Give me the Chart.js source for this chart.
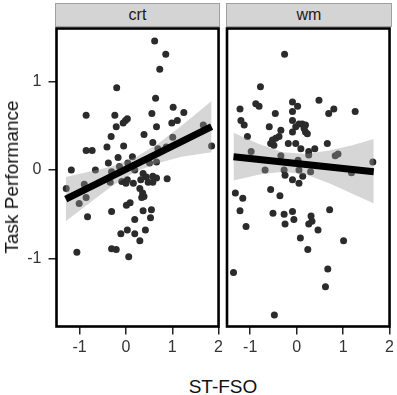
<!DOCTYPE html>
<html>
<head>
<meta charset="utf-8">
<script src="https://cdn.jsdelivr.net/npm/chart.js@4.4.0/dist/chart.umd.min.js"></script>
<style>
  body { margin: 0; background: #fff; font-family: "Liberation Sans", Arial, sans-serif; }
  #wrap { position: relative; width: 397px; height: 395px; overflow: hidden; }
  canvas { position: absolute; top: 0; }
  .strip { position: absolute; top: 3px; height: 24px; background: #d4d4d4; border: 1px solid #a0a0a0;
           box-sizing: border-box; text-align: center; font-size: 16px; line-height: 22px; color: #1a1a1a; }
  #ytitle { position: absolute; left: 12px; top: 177px; transform: translate(-50%, -50%) rotate(-90deg);
            font-size: 19px; white-space: nowrap; color: #111; }
  #xtitle { position: absolute; left: 223px; top: 376px; transform: translateX(-50%);
            font-size: 19px; white-space: nowrap; color: #111; }
</style>
</head>
<body>
<div id="wrap">
  <canvas id="crtChart" width="226" height="360" style="left:0"></canvas>
  <canvas id="wmChart" width="175" height="360" style="left:222px"></canvas>
  <div class="strip" style="left:55px;width:165px">crt</div>
  <div class="strip" style="left:226px;width:166px">wm</div>
  <div id="ytitle">Task Performance</div>
  <div id="xtitle">ST-FSO</div>
</div>
<script>
// axis ticks
const xTicks = [-1, 0, 1, 2];
const yTicks = [-1, 0, 1];

// crt panel points
const crtX = [0.62, 0.86, 0.73, -0.20, 0.64, -0.86, -0.24, 0.03, -0.01, -0.06, -0.21, 0.56, 1.02, 1.25, 1.11, 0.99, 0.66, 1.67, 1.85,
  0.39, -0.32, -0.86, -0.73, -0.41, -0.05, 0.58, 1.01, 0.87, 0.69, 0.14, -0.17, -0.38, 0.04, -0.14, -1.18, -0.66, -0.31, 0.19, 0.37,
  0.51, 0.66, 0.44, 0.58, 0.66, 0.89, 0.48, 0.58, -0.09, 0.00, 0.16, -0.90, -1.29, 0.30, -0.34, -1.01, -0.86, -0.83, -0.31, 0.36,
  0.39, 0.01, 0.09, 0.37, 0.55, 0.53, 0.19, -0.11, 0.03, 0.19, 0.42, 0.30, -0.31, -0.21, -1.06, 0.06, 0.05, 0.03, 0.32, 0.34];
const crtY = [1.46, 1.31, 1.14, 0.93, 0.81, 0.62, 0.62, 0.58, 0.56, 0.53, 0.49, 0.64, 0.71, 0.65, 0.56, 0.53, 0.49, 0.51, 0.27,
  0.40, 0.38, 0.22, 0.22, 0.26, 0.27, 0.31, 0.37, 0.26, 0.24, 0.15, 0.14, 0.08, 0.08, 0.04, 0.00, 0.00, -0.02, 0.00, -0.04,
  0.08, 0.09, -0.08, -0.07, -0.09, -0.10, -0.14, -0.14, -0.13, -0.15, -0.15, -0.16, -0.21, -0.21, -0.14, -0.38, -0.31, -0.53, -0.47, -0.26,
  -0.30, -0.40, -0.37, -0.46, -0.45, -0.54, -0.56, -0.72, -0.68, -0.72, -0.68, -0.80, -0.89, -0.90, -0.93, -0.98, 0.04, -0.11, -0.11, -0.31];

// crt fit line and band
const crtLineX = [-1.30, 1.85];
const crtLineY = [-0.33, 0.49];
const crtBandX = [-1.30, -0.80, -0.30, 0.20, 0.70, 1.20, 1.85];
const crtBandLo = [-0.58, -0.38, -0.18, -0.02, 0.08, 0.15, 0.20];
const crtBandHi = [-0.08, -0.02, 0.04, 0.14, 0.30, 0.50, 0.78];

// wm panel points
const wmX = [-0.26, -0.78, -0.88, -0.81, -1.22, -0.46, -0.09, 0.02, 0.48, 0.80, 0.69, 1.26, -0.09, -1.20, -1.13, -0.59, -0.09, 0.12,
  0.05, 0.19, -0.02, 0.16, 0.19, 0.23, -0.34, -0.09, -1.06, -0.38, -0.45, -0.52, -0.56, -0.49, -0.18, -0.02, 0.09, 0.26, 0.39, 0.66,
  -0.98, -0.34, 0.26, 0.83, 0.89, 0.03, 1.64, -0.68, -0.27, 0.05, 0.30, 1.18, -0.25, 0.13, -0.09, 0.05, -0.56, -1.32, -1.16, -0.36,
  -1.22, -1.09, -0.51, -0.27, -0.09, -0.25, -0.06, 0.31, 0.33, 0.26, 0.46, 0.71, 0.08, 1.01, 0.24, -1.36, 0.67, 0.62, -0.48];
const wmY = [1.31, 0.94, 0.75, 0.72, 0.69, 0.64, 0.77, 0.72, 0.79, 0.69, 0.64, 0.66, 0.66, 0.56, 0.51, 0.49, 0.56, 0.52,
  0.52, 0.51, 0.49, 0.47, 0.43, 0.41, 0.45, 0.43, 0.38, 0.38, 0.36, 0.34, 0.30, 0.28, 0.30, 0.30, 0.24, 0.21, 0.24, 0.30,
  0.21, 0.16, 0.17, 0.16, 0.18, 0.11, 0.09, 0.00, 0.00, 0.00, -0.02, -0.03, -0.06, -0.07, -0.11, -0.15, -0.22, -0.26, -0.32, -0.29,
  -0.46, -0.64, -0.49, -0.50, -0.47, -0.61, -0.56, -0.52, -0.58, -0.61, -0.68, -0.45, -0.77, -0.80, -0.90, -1.16, -1.12, -1.32, -1.64];

// wm fit line and band
const wmLineX = [-1.36, 1.66];
const wmLineY = [0.15, -0.02];
const wmBandX = [-1.36, -0.80, -0.30, 0.20, 0.70, 1.20, 1.66];
const wmBandLo = [-0.12, -0.05, -0.02, -0.05, -0.15, -0.27, -0.38];
const wmBandHi = [0.42, 0.29, 0.20, 0.18, 0.22, 0.28, 0.35];

const font = { family: "'Liberation Sans', Arial, sans-serif", size: 16 };
const toPts = (xs, ys) => xs.map((x, i) => ({ x: x, y: ys[i] }));

// black frame around the panel
const framePlugin = {
  id: 'frame',
  afterDraw(chart) {
    const a = chart.chartArea, ctx = chart.ctx;
    ctx.save();
    ctx.strokeStyle = '#000';
    ctx.lineWidth = 2.6;
    ctx.strokeRect(a.left, a.top, a.right - a.left, a.bottom - a.top);
    ctx.restore();
  }
};

function makePanel(id, xs, ys, lx, ly, bx, blo, bhi, showY, pad) {
  const ctx = document.getElementById(id).getContext("2d");
  return new Chart(ctx, {
    type: 'scatter',
    data: {
      datasets: [
        { data: toPts(xs, ys), backgroundColor: '#2b2b2b', pointRadius: 3.5, borderWidth: 0, order: 3 },
        { type: 'line', data: toPts(bx, bhi), borderWidth: 0, pointRadius: 0, fill: '+1',
          backgroundColor: 'rgba(153,153,153,0.4)', order: 2 },
        { type: 'line', data: toPts(bx, blo), borderWidth: 0, pointRadius: 0, fill: false, order: 2 },
        { type: 'line', data: toPts(lx, ly), borderColor: '#000', borderWidth: 7, pointRadius: 0,
          borderCapStyle: 'butt', fill: false, order: 1 }
      ]
    },
    options: {
      responsive: false,
      animation: false,
      devicePixelRatio: 1,
      layout: { padding: pad },
      plugins: { legend: { display: false }, tooltip: { enabled: false } },
      scales: {
        x: {
          type: 'linear', min: -1.5, max: 2,
          afterBuildTicks: s => { s.ticks = xTicks.map(v => ({ value: v })); },
          afterFit: s => { s.height = 33.5; },
          grid: { drawOnChartArea: false, drawTicks: true, tickLength: 8, color: '#222', lineWidth: 1.5 },
          border: { display: false },
          ticks: { font: font, color: '#333', padding: 3, maxRotation: 0 }
        },
        y: {
          type: 'linear', min: -1.77, max: 1.6, display: showY,
          afterBuildTicks: s => { s.ticks = yTicks.map(v => ({ value: v })); },
          afterFit: s => { s.width = showY ? 56.5 : 0; },
          grid: { drawOnChartArea: false, drawTicks: true, tickLength: 8, color: '#222', lineWidth: 1.5 },
          border: { display: false },
          ticks: { font: font, color: '#333', padding: 7 }
        }
      }
    },
    plugins: [framePlugin]
  });
}

makePanel("crtChart", crtX, crtY, crtLineX, crtLineY, crtBandX, crtBandLo, crtBandHi, true,
  { top: 28.5, right: 7, left: 0, bottom: 0 });
makePanel("wmChart", wmX, wmY, wmLineX, wmLineY, wmBandX, wmBandLo, wmBandHi, false,
  { top: 28.5, right: 6, left: 5, bottom: 0 });
</script>
</body>
</html>
